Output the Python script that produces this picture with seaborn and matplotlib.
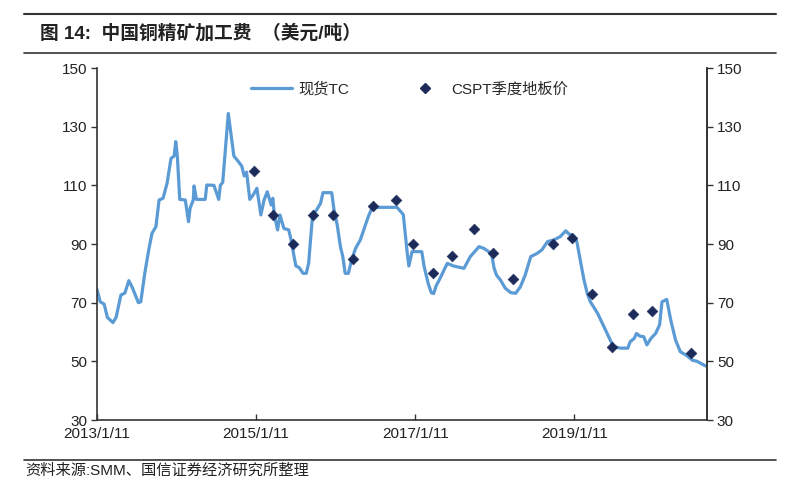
import numpy as np
import pandas as pd
import seaborn as sns
import matplotlib.pyplot as plt
from matplotlib.lines import Line2D

# spot TC, decimal year -> USD/t
tc_year = [2013.03, 2013.07, 2013.12, 2013.16, 2013.23, 2013.27, 2013.33, 2013.38, 2013.43, 2013.47,
           2013.55, 2013.58, 2013.63, 2013.68, 2013.72, 2013.77, 2013.81, 2013.86, 2013.91, 2013.96,
           2014.00, 2014.02, 2014.04, 2014.07, 2014.14, 2014.18, 2014.20, 2014.24, 2014.25, 2014.28,
           2014.39, 2014.41, 2014.50, 2014.56, 2014.58, 2014.61, 2014.68, 2014.75, 2014.81, 2014.85,
           2014.88, 2014.91, 2014.95, 2015.00, 2015.04, 2015.09, 2015.13, 2015.17, 2015.22, 2015.24,
           2015.26, 2015.30, 2015.33, 2015.38, 2015.44, 2015.47, 2015.50, 2015.53, 2015.57, 2015.62,
           2015.66, 2015.69, 2015.72, 2015.74, 2015.79, 2015.84, 2015.87, 2015.98, 2016.01, 2016.05,
           2016.09, 2016.12, 2016.15, 2016.19, 2016.23, 2016.28, 2016.34, 2016.39, 2016.44, 2016.49,
           2016.80, 2016.85, 2016.88, 2016.93, 2016.95, 2016.99, 2017.11, 2017.14, 2017.19, 2017.23,
           2017.26, 2017.29, 2017.34, 2017.43, 2017.51, 2017.64, 2017.72, 2017.83, 2017.89, 2017.95,
           2017.99, 2018.02, 2018.05, 2018.10, 2018.16, 2018.23, 2018.29, 2018.35, 2018.41, 2018.48,
           2018.56, 2018.62, 2018.69, 2018.77, 2018.85, 2018.92, 2018.96, 2019.02, 2019.06, 2019.11,
           2019.15, 2019.19, 2019.23, 2019.32, 2019.40, 2019.47, 2019.52, 2019.61, 2019.70, 2019.73,
           2019.78, 2019.81, 2019.85, 2019.90, 2019.94, 2019.99, 2020.05, 2020.10, 2020.13, 2020.19,
           2020.24, 2020.30, 2020.36, 2020.45, 2020.51, 2020.57, 2020.68]
tc_value = [74.5, 70.3, 69.5, 65.0, 63.2, 65.0, 72.6, 73.3, 77.5, 75.4,
            70.0, 70.3, 80.0, 88.0, 93.6, 95.9, 105.0, 105.6, 110.7, 119.2,
            120.0, 124.9, 120.0, 105.2, 105.0, 97.6, 102.2, 105.0, 109.8, 105.2,
            105.2, 110.1, 110.0, 105.2, 110.0, 111.0, 134.5, 120.0, 118.0, 116.5,
            113.2, 114.5, 105.2, 107.0, 109.0, 99.9, 105.0, 107.8, 103.3, 105.6,
            99.9, 94.8, 99.9, 95.3, 94.8, 91.4, 86.8, 82.5, 82.0, 80.0,
            80.0, 83.4, 93.6, 100.0, 101.6, 103.9, 107.5, 107.5, 101.6, 96.5,
            89.1, 85.7, 80.0, 80.0, 84.5, 88.5, 91.4, 95.3, 99.3, 102.5,
            102.5, 101.0, 100.0, 86.8, 82.5, 87.4, 87.4, 82.3, 76.6, 73.4,
            73.1, 75.7, 78.3, 83.4, 82.5, 81.7, 85.7, 89.1, 88.5, 87.4,
            86.2, 81.7, 79.4, 77.7, 74.9, 73.4, 73.2, 75.4, 79.4, 85.7,
            86.8, 88.0, 90.8, 91.4, 92.5, 94.5, 93.4, 92.7, 90.8, 83.4,
            77.7, 73.2, 70.3, 66.4, 61.8, 57.8, 55.0, 54.5, 54.5, 56.7,
            57.8, 59.5, 58.6, 58.4, 55.6, 57.8, 59.5, 62.4, 70.3, 71.1,
            64.1, 57.3, 53.3, 51.8, 50.4, 50.0, 48.4]

# CSPT quarterly floor price
cspt_date = ['2015-01-01', '2015-04-01', '2015-07-01', '2015-10-01', '2016-01-01', '2016-04-01',
             '2016-07-01', '2016-10-15', '2017-01-01', '2017-04-01', '2017-07-01', '2017-10-10',
             '2018-01-01', '2018-04-05', '2018-10-05', '2019-01-01', '2019-04-01', '2019-07-01',
             '2019-10-08', '2020-01-01', '2020-07-01']
cspt_value = [115, 100, 90, 100, 100, 85, 103, 105, 90, 80, 86, 95, 87, 78, 90, 92, 73, 55, 66, 67, 53]

xtick_dates = ['2013-01-11', '2015-01-11', '2017-01-11', '2019-01-11']
xtick_labels = ['2013/1/11', '2015/1/11', '2017/1/11', '2019/1/11']
yticks = [30, 50, 70, 90, 110, 130, 150]


def to_date(y):
    yr = int(np.floor(y))
    return pd.Timestamp(f'{yr}-01-01') + pd.to_timedelta((y - yr) * 365.25, unit='D')


def main():
    sns.set_theme(style='white')
    plt.rcParams['font.family'] = ['Liberation Sans', 'Noto Sans CJK SC']
    line_color = '#5b9bd5'
    dot_color = '#1c2b5a'

    tc = pd.DataFrame({'date': [to_date(y) for y in tc_year], 'TC': tc_value})
    cspt = pd.DataFrame({'date': pd.to_datetime(cspt_date), 'CSPT': cspt_value})

    fig = plt.figure(figsize=(8, 5), dpi=100)
    ax = fig.add_axes([0.121, 0.16, 0.763, 0.704])
    sns.lineplot(ax=ax, data=tc, x='date', y='TC', color=line_color, linewidth=2.3)
    sns.scatterplot(ax=ax, data=cspt, x='date', y='CSPT', color=dot_color, marker='D', s=30,
                    edgecolor=dot_color, zorder=5)

    ax.set_xlim(pd.Timestamp('2013-01-11'), pd.Timestamp('2020-09-12'))
    ax.set_ylim(30, 150)
    ax.set_yticks(yticks)
    ax.set_xticks(pd.to_datetime(xtick_dates))
    ax.set_xticklabels(xtick_labels)
    ax.set_xlabel('')
    ax.set_ylabel('')
    ax.tick_params(axis='y', direction='out', length=4, width=1, labelsize=11, color='#333333',
                   labelcolor='#222222', left=True, pad=3)
    ax.tick_params(axis='x', direction='in', length=4, width=1, labelsize=11, color='#333333',
                   labelcolor='#222222', bottom=True, pad=5)
    for side in ['left', 'bottom', 'right']:
        ax.spines[side].set_color('#333333')
        ax.spines[side].set_linewidth(1.2)
    ax.spines['top'].set_visible(False)

    ax2 = ax.twinx()
    ax2.set_ylim(30, 150)
    ax2.set_yticks(yticks)
    ax2.tick_params(axis='y', direction='out', length=4, width=1, labelsize=11, color='#333333',
                    labelcolor='#222222', right=True, pad=3)
    ax2.spines['top'].set_visible(False)
    ax2.spines['right'].set_color('#333333')
    ax2.spines['right'].set_linewidth(1.2)
    ax2.spines['left'].set_visible(False)
    ax2.spines['bottom'].set_visible(False)

    handles = [Line2D([], [], color=line_color, linewidth=2.3),
               Line2D([], [], color=dot_color, marker='D', linestyle='', markersize=5)]
    ax.legend(handles, ['现货TC', 'CSPT季度地板价'], loc='upper left', bbox_to_anchor=(0.23, 1.0),
              ncol=2, frameon=False, fontsize=11, handlelength=2.7, columnspacing=3.6,
              handletextpad=0.4)

    # header / footer rules and texts
    fig.add_artist(Line2D([0.03, 0.97], [0.972, 0.972], color='#333333', linewidth=1.5))
    fig.add_artist(Line2D([0.03, 0.97], [0.894, 0.894], color='#333333', linewidth=1.2))
    fig.add_artist(Line2D([0.03, 0.97], [0.08, 0.08], color='#333333', linewidth=1.2))
    fig.text(0.05, 0.933, '图 14:  中国铜精矿加工费  （美元/吨）', fontsize=13.5, fontweight='bold',
             va='center', ha='left', color='#222222')
    fig.text(0.032, 0.058, '资料来源:SMM、国信证券经济研究所整理', fontsize=11, va='center',
             ha='left', color='#222222')

    plt.savefig('out.png', dpi=100, facecolor='white')


if __name__ == '__main__':
    main()
